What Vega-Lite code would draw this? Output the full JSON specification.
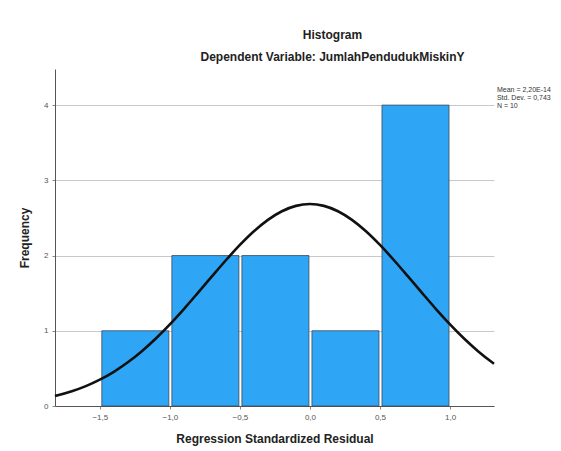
{
  "$schema": "https://vega.github.io/schema/vega-lite/v6.json",
  "width": 439,
  "height": 337,
  "autosize": {"type": "none"},
  "padding": {"left": 55, "top": 69, "right": 67, "bottom": 45},
  "background": "white",
  "config": {
    "view": {"stroke": null},
    "font": "Liberation Sans"
  },
  "title": {
    "text": "Histogram",
    "subtitle": "Dependent Variable: JumlahPendudukMiskinY",
    "anchor": "middle",
    "dx": 58,
    "offset": 5,
    "fontSize": 12,
    "fontWeight": "bold",
    "color": "#222222",
    "subtitleFontSize": 12,
    "subtitleFontWeight": "bold",
    "subtitleColor": "#222222",
    "subtitlePadding": 10
  },
  "datasets": {
    "bins": [
      {"bin_start": -1.5, "bin_end": -1.0, "count": 1},
      {"bin_start": -1.0, "bin_end": -0.5, "count": 2},
      {"bin_start": -0.5, "bin_end": 0.0, "count": 2},
      {"bin_start": 0.0, "bin_end": 0.5, "count": 1},
      {"bin_start": 0.5, "bin_end": 1.0, "count": 4}
    ],
    "curve": [
      {"x": -1.82, "y": 0.1337},
      {"x": -1.8, "y": 0.1427},
      {"x": -1.7, "y": 0.1959},
      {"x": -1.6, "y": 0.2641},
      {"x": -1.5, "y": 0.3498},
      {"x": -1.4, "y": 0.4549},
      {"x": -1.3, "y": 0.5809},
      {"x": -1.2, "y": 0.7286},
      {"x": -1.1, "y": 0.8974},
      {"x": -1.0, "y": 1.0853},
      {"x": -0.9, "y": 1.2891},
      {"x": -0.8, "y": 1.5037},
      {"x": -0.7, "y": 1.7224},
      {"x": -0.6, "y": 1.9377},
      {"x": -0.5, "y": 2.1407},
      {"x": -0.4, "y": 2.3225},
      {"x": -0.3, "y": 2.4746},
      {"x": -0.2, "y": 2.5892},
      {"x": -0.1, "y": 2.6605},
      {"x": 0.0, "y": 2.6847},
      {"x": 0.1, "y": 2.6605},
      {"x": 0.2, "y": 2.5892},
      {"x": 0.3, "y": 2.4746},
      {"x": 0.4, "y": 2.3225},
      {"x": 0.5, "y": 2.1407},
      {"x": 0.6, "y": 1.9377},
      {"x": 0.7, "y": 1.7224},
      {"x": 0.8, "y": 1.5037},
      {"x": 0.9, "y": 1.2891},
      {"x": 1.0, "y": 1.0853},
      {"x": 1.1, "y": 0.8974},
      {"x": 1.2, "y": 0.7286},
      {"x": 1.3, "y": 0.5809},
      {"x": 1.314, "y": 0.5620}
    ],
    "stats": [
      {"label": "Mean = 2,20E-14", "line": 0},
      {"label": "Std. Dev. = 0,743", "line": 1},
      {"label": "N = 10", "line": 2}
    ]
  },
  "layer": [
    {
      "data": {"name": "bins"},
      "mark": {"type": "bar", "color": "#2ea6f5", "stroke": "#3b4a5a", "strokeWidth": 0.8, "binSpacing": 3},
      "encoding": {
        "x": {
          "field": "bin_start",
          "type": "quantitative",
          "bin": {"binned": true, "step": 0.5},
          "scale": {"domain": [-1.82, 1.314], "nice": false, "zero": false},
          "axis": {
            "values": [-1.5, -1.0, -0.5, 0.0, 0.5, 1.0],
            "labelExpr": "replace(format(datum.value, '.1f'), '.', ',')",
            "title": "Regression Standardized Residual",
            "titleFontSize": 12,
            "titleFontWeight": "bold",
            "titleColor": "#222222",
            "titlePadding": 12,
            "labelFontSize": 8,
            "labelColor": "#555555",
            "labelPadding": 4,
            "domainColor": "#555555",
            "tickColor": "#888888",
            "tickSize": 3,
            "grid": false
          }
        },
        "x2": {"field": "bin_end"},
        "y": {
          "field": "count",
          "type": "quantitative",
          "scale": {"domain": [0, 4.48], "nice": false},
          "axis": {
            "values": [0, 1, 2, 3, 4],
            "format": "d",
            "title": "Frequency",
            "titleFontSize": 12,
            "titleFontWeight": "bold",
            "titleColor": "#222222",
            "titlePadding": 12,
            "labelFontSize": 8,
            "labelColor": "#555555",
            "labelPadding": 4,
            "domainColor": "#555555",
            "tickColor": "#888888",
            "tickSize": 3,
            "grid": true,
            "gridColor": "#c8c8c8",
            "gridWidth": 1
          }
        }
      }
    },
    {
      "data": {"name": "curve"},
      "mark": {"type": "line", "color": "#111111", "strokeWidth": 2.6, "interpolate": "monotone"},
      "encoding": {
        "x": {"field": "x", "type": "quantitative"},
        "y": {"field": "y", "type": "quantitative"}
      }
    },
    {
      "data": {"name": "stats"},
      "mark": {"type": "text", "align": "left", "baseline": "middle", "fontSize": 7, "color": "#333333"},
      "encoding": {
        "x": {"datum": 1.335, "type": "quantitative"},
        "y": {"datum": 4.2, "type": "quantitative"},
        "yOffset": {"field": "line", "type": "quantitative", "scale": {"domain": [0, 2], "range": [0, 16]}},
        "text": {"field": "label"}
      }
    }
  ]
}
